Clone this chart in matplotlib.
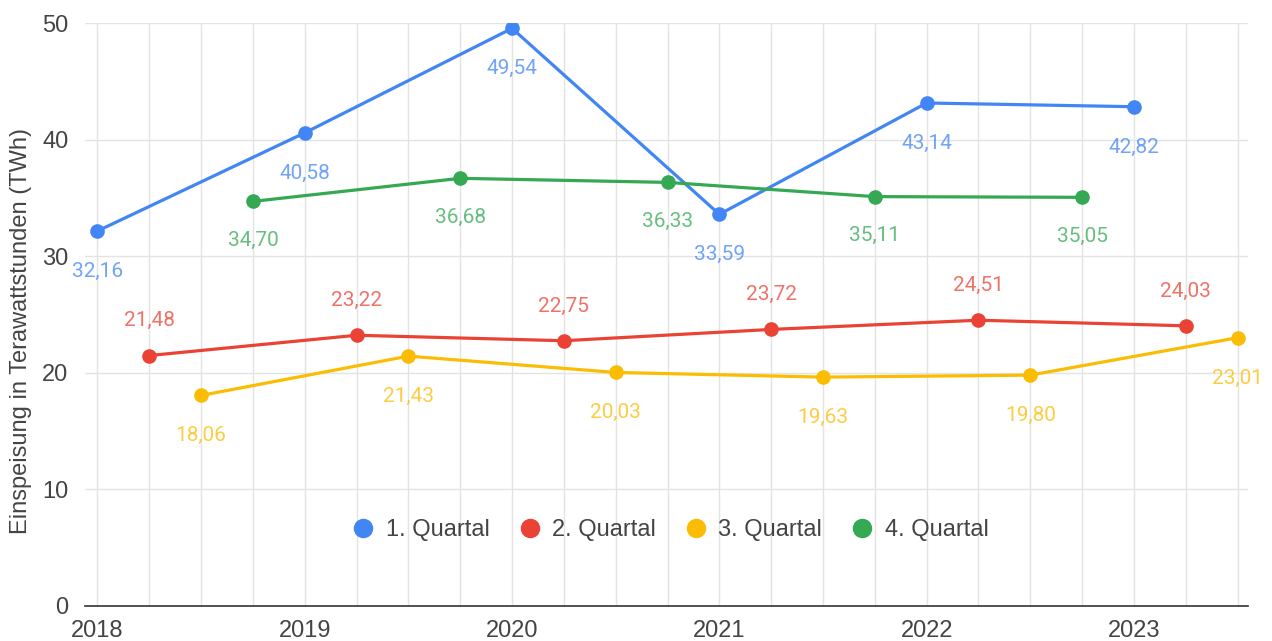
import matplotlib.pyplot as plt
from matplotlib.lines import Line2D

plt.rcParams['font.family'] = ['Liberation Sans', 'DejaVu Sans']

jahre = [2018, 2019, 2020, 2021, 2022, 2023]
q1 = [32.16, 40.58, 49.54, 33.59, 43.14, 42.82]
q2 = [21.48, 23.22, 22.75, 23.72, 24.51, 24.03]
q3 = [18.06, 21.43, 20.03, 19.63, 19.80, 23.01]
q4 = [34.70, 36.68, 36.33, 35.11, 35.05]
namen = ['1. Quartal', '2. Quartal', '3. Quartal', '4. Quartal']
farben = ['#4285F4', '#EA4335', '#FBBC04', '#34A853']

reihen = [q1, q2, q3, q4]
# Beschriftung: Versatz in Punkten (unten negativ, oben positiv)
versatz = [-29, 25, -29, -28]


def zahl(v):
    return f'{v:.2f}'.replace('.', ',')


fig = plt.figure(figsize=(12.72, 6.41), dpi=100)
ax = fig.add_axes([85 / 1272, 1 - 606 / 641, (1248 - 85) / 1272, (606 - 23) / 641])

for i, werte in enumerate(reihen):
    x = [j + 0.25 * i for j in jahre[:len(werte)]]
    ax.plot(x, werte, color=farben[i], lw=2.3, marker='o', ms=9.5, zorder=3)
    for xi, v in zip(x, werte):
        ax.annotate(zahl(v), (xi, v), xytext=(0, versatz[i]), textcoords='offset points',
                    ha='center', va='center', fontsize=15, color=farben[i], alpha=0.75,
                    family=['Roboto', 'DejaVu Sans'])

ax.set_xlim(2017.94, 2023.55)
ax.set_ylim(0, 50)
ax.set_xticks(jahre)
ax.set_xticklabels([str(j) for j in jahre])
ax.set_xticks([j + q for j in jahre for q in (0.25, 0.5, 0.75) if j + q <= 2023.5], minor=True)
ax.set_yticks([0, 10, 20, 30, 40, 50])
ax.tick_params(axis='both', which='both', length=0, labelsize=17, colors='#444444')
ax.tick_params(axis='x', pad=10)
ax.tick_params(axis='y', pad=12)
ax.grid(True, which='both', color='#e3e3e3', lw=1)
ax.set_axisbelow(True)
for s in ['top', 'right', 'left']:
    ax.spines[s].set_visible(False)
ax.spines['bottom'].set_color('#333333')
ax.spines['bottom'].set_linewidth(1.2)

ax.set_ylabel('Einspeisung in Terawattstunden (TWh)', fontsize=17, color='#444444')
ax.yaxis.set_label_coords(-0.046, 0.472)

handles = [Line2D([], [], ls='none', marker='o', ms=13, color=f) for f in farben]
ax.legend(handles, namen, loc='center', bbox_to_anchor=(0.503, 0.13), ncol=4, frameon=False,
          fontsize=17, handlelength=1.0, handletextpad=0.45, columnspacing=1.2,
          labelcolor='#444444')

fig.savefig('out.png', dpi=100, facecolor='white')
